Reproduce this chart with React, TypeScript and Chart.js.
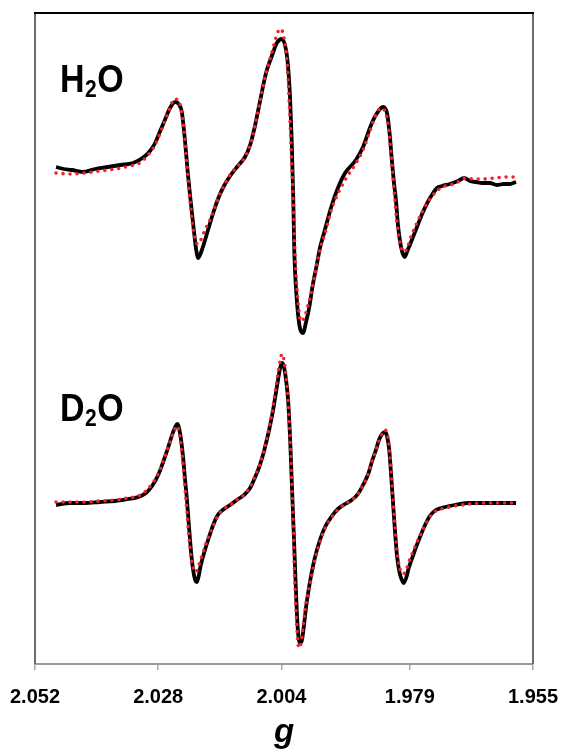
import React, { useEffect, useRef } from "react";
import { Chart, registerables } from "chart.js";

Chart.register(...registerables);

// ---- axis ----
const G_LEFT = 2.052;
const G_RIGHT = 1.955;
const TICK_VALUES = [2.052, 2.028, 2.004, 1.979, 1.955];
const TICK_LABELS = ["2.052", "2.028", "2.004", "1.979", "1.955"];
const X_TITLE = "g";

// ---- intensity (arbitrary units); each spectrum relative to its own baseline ----
const Y_MIN = -161;
const Y_MAX = 490;
const H2O_OFFSET = 331;
const D2O_OFFSET = 0;

// [g, intensity]
const h2oExp: [number, number][] = [
  [2.0479, 5], [2.0464, 3], [2.0448, 2], [2.0427, 0], [2.0403, 3], [2.0378, 5],
  [2.0354, 7], [2.0329, 9], [2.0308, 15], [2.0296, 21], [2.0286, 29], [2.0277, 40],
  [2.0267, 52], [2.0257, 64], [2.0247, 70], [2.024, 68], [2.0234, 60], [2.0228, 32],
  [2.0222, -3], [2.0216, -33], [2.021, -61], [2.0206, -78], [2.0202, -86], [2.0195, -78],
  [2.0183, -58], [2.0173, -41], [2.0162, -25], [2.0152, -14], [2.014, -4], [2.0125, 6],
  [2.0111, 15], [2.0101, 27], [2.0092, 45], [2.0082, 70], [2.007, 99], [2.0058, 117],
  [2.0049, 129], [2.0039, 133], [2.0031, 122], [2.0027, 105], [2.0023, 72], [2.002, 32],
  [2.0017, -25], [2.0015, -78], [2.001, -128], [2.0004, -156], [1.9998, -161], [1.9992, -150],
  [1.9986, -136], [1.9979, -113], [1.9972, -95], [1.9965, -76], [1.9957, -61], [1.9943, -35],
  [1.993, -16], [1.9916, -1], [1.9895, 12], [1.9881, 25], [1.9867, 45], [1.9856, 57],
  [1.9842, 65], [1.9834, 58], [1.9829, 37], [1.9825, 12], [1.9821, -10], [1.9817, -28],
  [1.9813, -53], [1.9807, -75], [1.98, -85], [1.9794, -78], [1.9786, -68], [1.9776, -55],
  [1.9766, -42], [1.9755, -30], [1.9747, -23], [1.9737, -16], [1.9727, -14], [1.9712, -12],
  [1.9696, -9], [1.9684, -6], [1.9673, -9], [1.9661, -10], [1.9649, -11], [1.9634, -11],
  [1.962, -13], [1.9607, -12], [1.9595, -12], [1.9583, -10],
];

const h2oSim: [number, number][] = [
  [2.0479, -1], [2.0452, -2], [2.0423, -1], [2.0393, 1], [2.0364, 3], [2.0335, 6],
  [2.0316, 9], [2.03, 17], [2.0286, 27], [2.0277, 38], [2.0267, 51], [2.0257, 64],
  [2.0249, 73], [2.0241, 72], [2.0236, 64], [2.023, 42], [2.0224, 7], [2.0218, -28],
  [2.0213, -53], [2.0208, -68], [2.0202, -72], [2.0197, -68], [2.0189, -58], [2.0181, -50],
  [2.0173, -40], [2.0166, -30], [2.0156, -18], [2.014, -3], [2.0125, 6], [2.0111, 15],
  [2.0101, 27], [2.0092, 45], [2.0082, 70], [2.007, 99], [2.006, 117], [2.0051, 134],
  [2.0045, 142], [2.0041, 143], [2.0035, 134], [2.0029, 110], [2.0025, 72], [2.0021, 22],
  [2.0017, -28], [2.0014, -78], [2.0008, -128], [2.0002, -149], [1.9996, -146], [1.9988, -133],
  [1.998, -116], [1.9972, -95], [1.9965, -78], [1.9955, -61], [1.9943, -38], [1.9932, -24],
  [1.9916, -8], [1.9897, 7], [1.9881, 22], [1.9867, 42], [1.9856, 57], [1.9846, 64],
  [1.9838, 60], [1.9832, 47], [1.9827, 22], [1.9823, -3], [1.9819, -28], [1.9815, -50],
  [1.9809, -71], [1.9801, -80], [1.9795, -76], [1.9788, -65], [1.9778, -53], [1.9766, -40],
  [1.9755, -30], [1.9741, -21], [1.9727, -15], [1.9712, -13], [1.9696, -10], [1.9682, -6],
  [1.9667, -7], [1.9649, -7], [1.9624, -6], [1.9605, -5], [1.9585, -5],
];

const d2oExp: [number, number][] = [
  [2.0479, -2], [2.0452, 0], [2.0423, 0], [2.0393, 1], [2.0364, 2], [2.0339, 4],
  [2.0319, 6], [2.0304, 10], [2.0292, 17], [2.028, 28], [2.0271, 40], [2.0261, 55],
  [2.0253, 68], [2.0247, 76], [2.0243, 79], [2.024, 76], [2.0236, 65], [2.0232, 48],
  [2.0228, 25], [2.0224, 3], [2.022, -24], [2.0216, -49], [2.0212, -67], [2.0208, -77],
  [2.0205, -79], [2.0202, -75], [2.0197, -62], [2.0189, -47], [2.0181, -34], [2.0173, -22],
  [2.0164, -12], [2.0152, -6], [2.014, -2], [2.0127, 3], [2.0113, 8], [2.0101, 15],
  [2.0092, 25], [2.0084, 35], [2.0076, 48], [2.007, 60], [2.0064, 73], [2.0058, 88],
  [2.0053, 103], [2.0047, 122], [2.0043, 134], [2.0039, 140], [2.0035, 136], [2.0031, 123],
  [2.0027, 103], [2.0023, 63], [2.002, 23], [2.0017, -17], [2.0014, -57], [2.0011, -97],
  [2.0008, -127], [2.0004, -140], [2.0, -137], [1.9996, -122], [1.9992, -104], [1.9988, -90],
  [1.9982, -72], [1.9975, -55], [1.9965, -37], [1.9955, -24], [1.9943, -14], [1.993, -6],
  [1.9916, -1], [1.9903, 3], [1.9891, 9], [1.9881, 18], [1.9871, 29], [1.9864, 41],
  [1.9856, 53], [1.985, 63], [1.9844, 69], [1.9838, 71], [1.9834, 66], [1.983, 53],
  [1.9827, 33], [1.9823, 3], [1.9819, -27], [1.9815, -52], [1.9811, -67], [1.9807, -75],
  [1.9802, -80], [1.9797, -75], [1.9792, -65], [1.9784, -53], [1.9774, -39], [1.9762, -24],
  [1.9751, -13], [1.9739, -7], [1.9721, -4], [1.9702, -2], [1.9673, 0], [1.9644, 0],
  [1.9614, 0], [1.9583, 0],
];

const d2oSim: [number, number][] = [
  [2.0479, 1], [2.0452, 1], [2.0423, 1], [2.0393, 2], [2.0364, 3], [2.0339, 5],
  [2.0319, 7], [2.0304, 12], [2.0292, 19], [2.028, 29], [2.0271, 41], [2.0261, 55],
  [2.0253, 67], [2.0247, 75], [2.0243, 77], [2.024, 73], [2.0236, 60], [2.0232, 41],
  [2.0228, 16], [2.0224, -9], [2.022, -34], [2.0216, -54], [2.0212, -65], [2.0208, -69],
  [2.0204, -67], [2.0199, -59], [2.0191, -47], [2.0183, -35], [2.0173, -23], [2.0164, -13],
  [2.0152, -6], [2.014, -2], [2.0127, 3], [2.0113, 8], [2.0101, 16], [2.0092, 26],
  [2.0084, 36], [2.0076, 49], [2.007, 61], [2.0064, 75], [2.0058, 91], [2.0053, 108],
  [2.0047, 128], [2.0043, 141], [2.0039, 149], [2.0035, 143], [2.0031, 126], [2.0027, 103],
  [2.0023, 63], [2.002, 23], [2.0017, -19], [2.0015, -62], [2.0012, -102], [2.0009, -132],
  [2.0006, -145], [2.0002, -140], [1.9998, -125], [1.9994, -107], [1.9989, -92], [1.9982, -75],
  [1.9975, -57], [1.9965, -39], [1.9955, -25], [1.9943, -15], [1.993, -7], [1.9916, -1],
  [1.9903, 3], [1.9891, 9], [1.9881, 18], [1.9871, 29], [1.9864, 41], [1.9856, 53],
  [1.985, 62], [1.9844, 69], [1.9838, 73], [1.9834, 69], [1.983, 56], [1.9827, 35],
  [1.9823, 6], [1.9819, -22], [1.9815, -47], [1.9811, -62], [1.9807, -69], [1.9803, -71],
  [1.9797, -67], [1.9792, -59], [1.9784, -49], [1.9774, -37], [1.9762, -24], [1.9751, -14],
  [1.9739, -8], [1.9721, -5], [1.9702, -3], [1.9673, -1], [1.9644, 0], [1.9614, 0],
  [1.9583, 0],
];

// sample labels: main letter, subscript, trailing letter
const SAMPLE_LABELS: { main: string; sub: string; tail: string }[] = [
  { main: "H", sub: "2", tail: "O" },
  { main: "D", sub: "2", tail: "O" },
];

const FONT = '"Liberation Sans", Arial, Helvetica, sans-serif';
const BLACK = "#000000";
const RED = "#f2222c";

const toPoints = (arr: [number, number][], off: number) =>
  arr.map(([x, y]) => ({ x, y: y + off }));

const framePlugin = {
  id: "frame",
  afterDatasetsDraw(chart: any) {
    const { ctx, chartArea } = chart;
    const { left, right, top, bottom } = chartArea;
    ctx.save();
    ctx.lineWidth = 2;
    ctx.strokeStyle = "#6e6e6e";
    ctx.beginPath();
    ctx.moveTo(left, top);
    ctx.lineTo(left, bottom);
    ctx.moveTo(right, top);
    ctx.lineTo(right, bottom);
    ctx.stroke();
    ctx.strokeStyle = "#000000";
    ctx.beginPath();
    ctx.moveTo(left - 1, top);
    ctx.lineTo(right + 1, top);
    ctx.stroke();
    ctx.restore();
  },
};

const labelPlugin = {
  id: "sampleLabels",
  afterDatasetsDraw(chart: any) {
    const { ctx, chartArea } = chart;
    const spots = [
      { x: chartArea.left + 25, y: chartArea.top + 79 },
      { x: chartArea.left + 25, y: chartArea.top + 408 },
    ];
    ctx.save();
    ctx.fillStyle = "#000";
    ctx.textBaseline = "alphabetic";
    ctx.textAlign = "left";
    SAMPLE_LABELS.forEach((lab, i) => {
      const p = spots[i];
      ctx.save();
      ctx.translate(p.x, p.y);
      ctx.scale(1, 1.12);
      ctx.font = `bold 34px ${FONT}`;
      ctx.fillText(lab.main, 0, 0);
      let w = ctx.measureText(lab.main).width;
      ctx.font = `bold 21px ${FONT}`;
      ctx.fillText(lab.sub, w + 0.5, 4.5);
      w += ctx.measureText(lab.sub).width + 1;
      ctx.font = `bold 34px ${FONT}`;
      ctx.fillText(lab.tail, w, 0);
      ctx.restore();
    });
    ctx.restore();
  },
};

export default function App() {
  const ref = useRef<HTMLCanvasElement | null>(null);

  useEffect(() => {
    if (!ref.current) return;
    const solid = (data: any[], label: string) => ({
      label,
      data,
      borderColor: BLACK,
      borderWidth: 3.8,
      pointRadius: 0,
      fill: false,
      cubicInterpolationMode: "monotone" as const,
      order: 2,
    });
    const dotted = (data: any[], label: string) => ({
      label,
      data,
      borderColor: RED,
      borderWidth: 3.6,
      borderDash: [0, 7],
      borderCapStyle: "round" as const,
      pointRadius: 0,
      fill: false,
      cubicInterpolationMode: "monotone" as const,
      order: 1,
    });
    const chart = new Chart(ref.current, {
      type: "line",
      data: {
        datasets: [
          solid(toPoints(h2oExp, H2O_OFFSET), "H2O experiment"),
          dotted(toPoints(h2oSim, H2O_OFFSET), "H2O simulation"),
          solid(toPoints(d2oExp, D2O_OFFSET), "D2O experiment"),
          dotted(toPoints(d2oSim, D2O_OFFSET), "D2O simulation"),
        ],
      },
      options: {
        animation: false,
        responsive: false,
        parsing: false as any,
        layout: { padding: { left: 35, right: 29, top: 13, bottom: 0 } },
        plugins: {
          legend: { display: false },
          tooltip: { enabled: false },
        },
        scales: {
          x: {
            type: "linear",
            reverse: true,
            min: G_RIGHT,
            max: G_LEFT,
            afterBuildTicks: (scale: any) => {
              scale.ticks = TICK_VALUES.map((v) => ({ value: v }));
            },
            afterFit: (scale: any) => {
              scale.height = 89;
              scale.paddingLeft = 0;
              scale.paddingRight = 0;
            },
            border: { display: true, color: "#9a9a9a", width: 2 },
            grid: {
              drawOnChartArea: false,
              drawTicks: true,
              tickLength: 6,
              color: "#a8a8a8",
              lineWidth: 1.5,
            },
            ticks: {
              autoSkip: false,
              maxRotation: 0,
              padding: 15,
              color: "#000",
              font: { family: FONT, size: 20, weight: "bold" },
              callback: (value: any) => {
                const i = TICK_VALUES.findIndex((t) => Math.abs(t - value) < 1e-6);
                return i >= 0 ? TICK_LABELS[i] : "";
              },
            },
            title: {
              display: true,
              text: X_TITLE,
              color: "#000",
              font: { family: FONT, size: 33, weight: "bold", style: "italic" },
              padding: { top: 0, bottom: 0 },
            },
          },
          y: {
            type: "linear",
            display: false,
            min: Y_MIN,
            max: Y_MAX,
          },
        },
      },
      plugins: [framePlugin, labelPlugin],
    });
    return () => chart.destroy();
  }, []);

  return (
    <div style={{ position: "fixed", left: 0, top: 0, width: 562, height: 753, background: "#fff" }}>
      <canvas ref={ref} width={562} height={753} style={{ display: "block", width: 562, height: 753 }} />
    </div>
  );
}
